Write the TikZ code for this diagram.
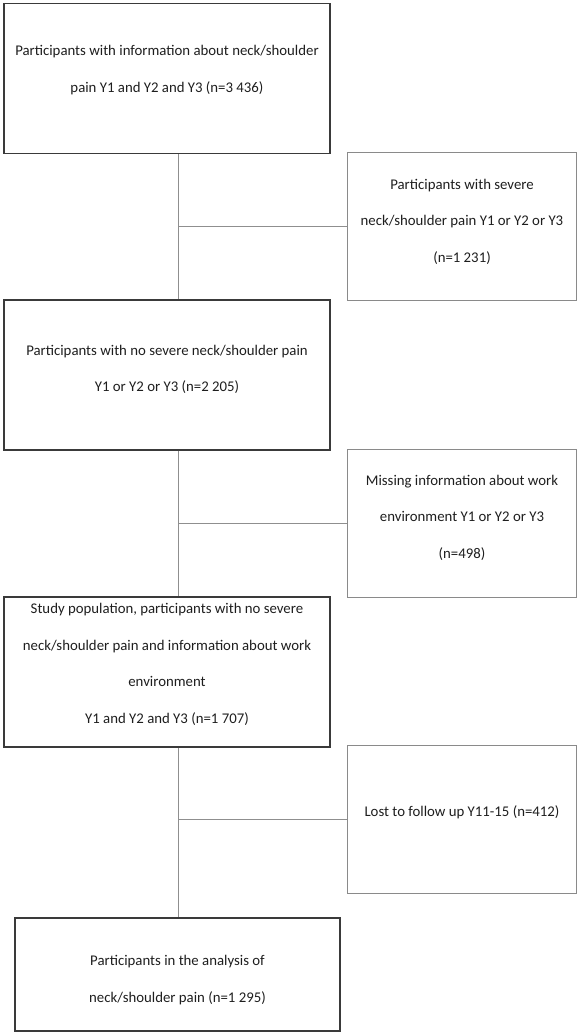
\documentclass[tikz,border=0pt]{standalone}
\usepackage{fontspec}
\setmainfont{Carlito}
\usepackage{xcolor}
\usetikzlibrary{positioning,calc}

\definecolor{boxline}{HTML}{3A3A3A}
\definecolor{sideline}{HTML}{8A8A8A}
\definecolor{linkline}{HTML}{8F8F8F}
\definecolor{txt}{HTML}{1E1E1E}

% lines of a box, lifted without moving the box
\newcommand{\boxlines}[2]{\raisebox{#1}[\height][\depth]{\begin{tabular}{@{}c@{}}#2\end{tabular}}}

\begin{document}
\begin{tikzpicture}[
    x=1pt, y=-1pt,
    mainbox/.style={rectangle, draw=boxline, line width=1.4pt, minimum width=326pt, minimum height=150pt, inner sep=0pt, text=txt, font=\fontsize{14.8}{36.5}\selectfont},
    sidebox/.style={rectangle, draw=sideline, line width=0.9pt, minimum width=229pt, minimum height=148pt, inner sep=0pt, text=txt, font=\fontsize{14.8}{36.5}\selectfont},
    link/.style={draw=linkline, line width=1pt}
]
    \useasboundingbox (0,0) rectangle (580,1035);

    % Main column
    \node[mainbox] (start) at (167,78.5) {\boxlines{12pt}{Participants with information about neck/shoulder \\ pain Y1 and Y2 and Y3 (n=3 436)}};
    \node[mainbox] (nosevere) at (167,375) {\boxlines{9pt}{Participants with no severe neck/shoulder pain \\ Y1 or Y2 or Y3 (n=2 205)}};
    \node[mainbox] (study) at (167,672) {\boxlines{11pt}{Study population, participants with no severe \\ neck/shoulder pain and information about work \\ environment \\ Y1 and Y2 and Y3 (n=1 707)}};
    \node[mainbox, minimum width=325pt, minimum height=113pt] (analysis) at (177.5,974.5) {\boxlines{-2pt}{Participants in the analysis of \\ neck/shoulder pain (n=1 295)}};

    % Exclusions
    \node[sidebox] (severe) at (462,226.5) {\boxlines{8pt}{Participants with severe \\ neck/shoulder pain Y1 or Y2 or Y3 \\ (n=1 231)}};
    \node[sidebox] (missing) at (462,523.5) {\boxlines{9pt}{Missing information about work \\ environment Y1 or Y2 or Y3 \\ (n=498)}};
    \node[sidebox] (lost) at (462,819.5) {\boxlines{10pt}{Lost to follow up Y11-15 (n=412)}};

    % Connectors
    \coordinate (trunk) at (178,0);
    \draw[link] (start.south -| trunk) -- (nosevere.north -| trunk);
    \draw[link] (nosevere.south -| trunk) -- (study.north -| trunk);
    \draw[link] (study.south -| trunk) -- (analysis.north -| trunk);
    \draw[link] (severe.west -| trunk) -- (severe.west);
    \draw[link] (missing.west -| trunk) -- (missing.west);
    \draw[link] (lost.west -| trunk) -- (lost.west);
\end{tikzpicture}
\end{document}
